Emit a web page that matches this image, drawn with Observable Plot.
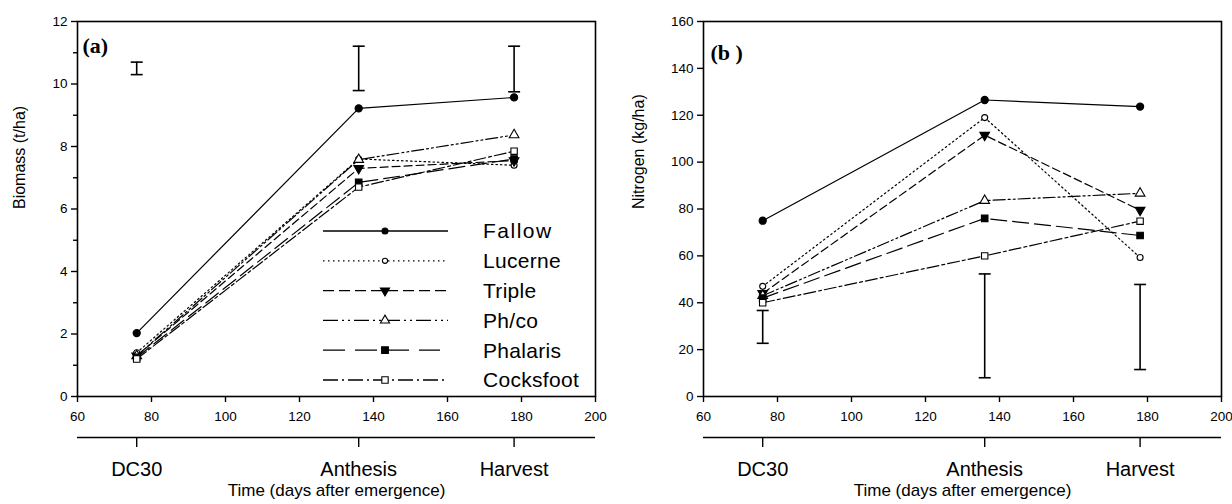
<!DOCTYPE html>
<html><head><meta charset="utf-8">
<script src="https://cdn.jsdelivr.net/npm/d3@7"></script>
<script src="https://cdn.jsdelivr.net/npm/@observablehq/plot@0.6"></script>
<style>
body{margin:0;background:#fff;}
#wrap{display:flex;width:1232px;height:504px;}
.panel{position:relative;width:616px;height:504px;}
.panel svg{overflow:visible;}
.legend{position:absolute;left:0;top:0;pointer-events:none;}
</style></head><body><div id="wrap"></div>
<script>
// ---------- data ----------
const days = [76, 136, 178];
const phaseLabels = ["DC30", "Anthesis", "Harvest"];
const seriesNames = ["Fallow", "Lucerne", "Triple", "Ph/co", "Phalaris", "Cocksfoot"];

const biomassFallow    = [2.03, 9.22, 9.57];
const biomassLucerne   = [1.4, 7.6, 7.4];
const biomassTriple    = [1.3, 7.3, 7.55];
const biomassPhco      = [1.3, 7.58, 8.37];
const biomassPhalaris  = [1.25, 6.85, 7.6];
const biomassCocksfoot = [1.2, 6.7, 7.85];
const biomassErrLow  = [10.3, 9.79, 9.75];
const biomassErrHigh = [10.7, 11.21, 11.21];

const nitrogenFallow    = [75, 126.5, 123.7];
const nitrogenLucerne   = [47, 119, 59.3];
const nitrogenTriple    = [44, 111.5, 79.5];
const nitrogenPhco      = [43, 83.6, 86.7];
const nitrogenPhalaris  = [42, 76, 68.7];
const nitrogenCocksfoot = [40, 60, 74.8];
const nitrogenErrLow  = [22.7, 8, 11.5];
const nitrogenErrHigh = [36.7, 52.3, 47.8];

const xTicks = [60, 80, 100, 120, 140, 160, 180, 200];
const biomassTicks = [0, 2, 4, 6, 8, 10, 12];
const biomassMinorTicks = [1, 3, 5, 7, 9, 11];
const nitrogenTicks = [0, 20, 40, 60, 80, 100, 120, 140, 160];

// ---------- styles ----------
const seriesStyles = [
  {dash: null,            symbol: "circle",   fill: "black", r: 3.6, rotate: 0,   lr: 3.0},
  {dash: "1.5,3",         symbol: "circle",   fill: "white", r: 3.0, rotate: 0,   lr: 2.6},
  {dash: "8,4",           symbol: "triangle", fill: "black", r: 3.6, rotate: 180, lr: 3.4},
  {dash: "12,3,2,3,2,3",  symbol: "triangle", fill: "white", r: 3.6, rotate: 0,   lr: 3.4},
  {dash: "16,6",          symbol: "square",   fill: "black", r: 3.7, rotate: 0,   lr: 3.8},
  {dash: "12,3,3,3",      symbol: "square",   fill: "white", r: 3.6, rotate: 0,   lr: 3.6}
];
const legendDash = [null, "1.5,3.5", "11,5", "15,4,2,4,2,4", "22,10", "15,4,2,4"];
const capSymbol = {draw(ctx, size) { const w = Math.sqrt(size / Math.PI); ctx.moveTo(-w, 0); ctx.lineTo(w, 0); }};

function makePanel(cfg) {
  const marks = [];
  marks.push(Plot.frame({stroke: "black", strokeWidth: 1.6}));
  marks.push(Plot.axisY(cfg.yTicks, {tickSize: 6, tickPadding: 4, fontSize: 13.5, strokeWidth: 1.4, label: null}));
  if (cfg.yMinor) marks.push(Plot.axisY(cfg.yMinor, {tickSize: 4, tickFormat: () => "", strokeWidth: 1.4, label: null}));
  marks.push(Plot.axisX(xTicks, {tickSize: 6, tickPadding: 9, fontSize: 13.5, strokeWidth: 1.4, label: null}));
  // phase axis below
  marks.push(Plot.ruleY([cfg.yDomain[0]], {stroke: "black", strokeWidth: 1.6, dy: 41}));
  marks.push(Plot.axisX(days, {tickSize: 10, tickPadding: 14, fontSize: 20, strokeWidth: 1.4, dy: 41, label: null,
    tickFormat: d => phaseLabels[days.indexOf(d)]}));
  marks.push(Plot.text(["Time (days after emergence)"], {frameAnchor: "bottom", dy: 99, fontSize: 17}));
  marks.push(Plot.text([cfg.yLabel], {frameAnchor: "left", rotate: -90, dx: cfg.yLabelDx, fontSize: 16}));
  marks.push(Plot.text([cfg.tag], {frameAnchor: "top-left", textAnchor: "start", dx: cfg.tagDx, dy: cfg.tagDy,
    fontFamily: "Liberation Serif", fontWeight: "bold", fontSize: 22}));
  // error bars
  const err = days.map((d, i) => ({x: d, lo: cfg.errLow[i], hi: cfg.errHigh[i]}));
  marks.push(Plot.ruleX(err, {x: "x", y1: "lo", y2: "hi", stroke: "black", strokeWidth: 1.6}));
  marks.push(Plot.dot(err, {x: "x", y: "lo", symbol: capSymbol, r: 6, fill: "none", stroke: "black", strokeWidth: 1.6}));
  marks.push(Plot.dot(err, {x: "x", y: "hi", symbol: capSymbol, r: 6, fill: "none", stroke: "black", strokeWidth: 1.6}));
  // series
  cfg.values.forEach((vals, k) => {
    const s = seriesStyles[k];
    const data = days.map((d, i) => ({x: d, y: vals[i], name: seriesNames[k]}));
    marks.push(Plot.line(data, {x: "x", y: "y", stroke: "black", strokeWidth: 1.2, strokeDasharray: s.dash || undefined}));
  });
  cfg.values.forEach((vals, k) => {
    const s = seriesStyles[k];
    const data = days.map((d, i) => ({x: d, y: vals[i], name: seriesNames[k]}));
    marks.push(Plot.dot(data, {x: "x", y: "y", symbol: s.symbol, r: s.r, fill: s.fill, stroke: "black", strokeWidth: 1.1, rotate: s.rotate}));
  });
  return Plot.plot({
    width: 616, height: 504,
    marginLeft: cfg.marginLeft, marginRight: cfg.marginRight, marginTop: 21, marginBottom: 108,
    style: {fontFamily: "Liberation Sans, Arial, sans-serif", color: "black", background: "white", overflow: "visible"},
    x: {domain: [60, 200], axis: null},
    y: {domain: cfg.yDomain, axis: null},
    marks
  });
}

const wrap = document.getElementById("wrap");
const pa = document.createElement("div"); pa.className = "panel";
const pb = document.createElement("div"); pb.className = "panel";
wrap.appendChild(pa); wrap.appendChild(pb);

pa.appendChild(makePanel({
  yDomain: [0, 12], yTicks: biomassTicks, yMinor: biomassMinorTicks, yLabel: "Biomass (t/ha)",
  values: [biomassFallow, biomassLucerne, biomassTriple, biomassPhco, biomassPhalaris, biomassCocksfoot],
  errLow: biomassErrLow, errHigh: biomassErrHigh,
  marginLeft: 77, marginRight: 21, tag: "(a)", tagDx: 5, tagDy: 16, yLabelDx: -58
}));
pb.appendChild(makePanel({
  yDomain: [0, 160], yTicks: nitrogenTicks, yMinor: null, yLabel: "Nitrogen (kg/ha)",
  values: [nitrogenFallow, nitrogenLucerne, nitrogenTriple, nitrogenPhco, nitrogenPhalaris, nitrogenCocksfoot],
  errLow: nitrogenErrLow, errHigh: nitrogenErrHigh,
  marginLeft: 87, marginRight: 11, tag: "(b )", tagDx: 7, tagDy: 23, yLabelDx: -65
}));

// legend inside panel (a)
const leg = d3.select(pa).append("svg").attr("class", "legend").attr("width", 616).attr("height", 504);
seriesNames.forEach((name, i) => {
  const s = seriesStyles[i];
  const y = 231 + i * 29.8;
  leg.append("line").attr("x1", 323).attr("x2", i === 4 ? 440 : 448).attr("y1", y).attr("y2", y)
    .attr("stroke", "black").attr("stroke-width", 1.3).attr("stroke-dasharray", legendDash[i]);
  const sym = s.symbol === "circle" ? d3.symbolCircle : s.symbol === "triangle" ? d3.symbolTriangle : d3.symbolSquare;
  leg.append("path").attr("d", d3.symbol(sym, s.lr * s.lr * Math.PI)())
    .attr("transform", `translate(385,${y}) rotate(${s.rotate})`)
    .attr("fill", s.fill).attr("stroke", "black").attr("stroke-width", 1.1);
  leg.append("text").attr("x", 483).attr("y", y).attr("dy", "0.35em")
    .attr("font-family", "Liberation Sans, Arial, sans-serif").attr("font-size", 21)
    .attr("letter-spacing", i === 0 ? 1.5 : 0.3).text(name);
});
</script></body></html>
